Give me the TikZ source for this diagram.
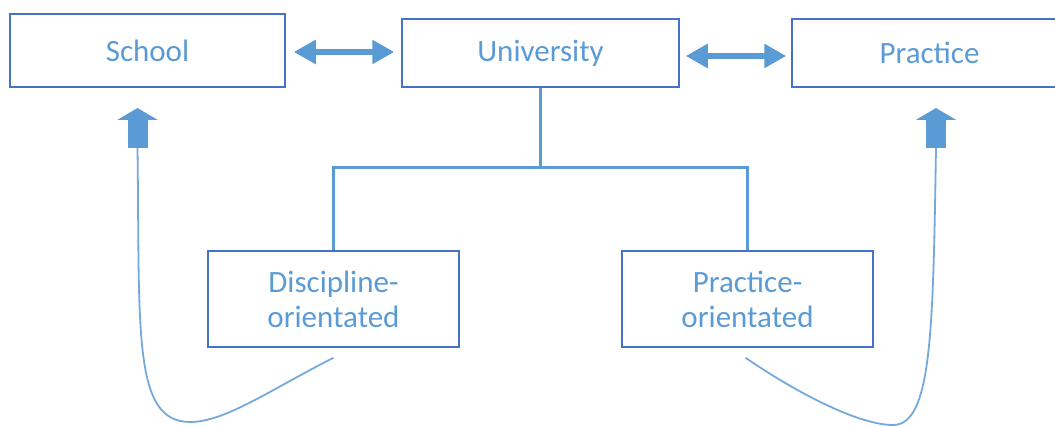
\documentclass[tikz,border=0pt]{standalone}
\usepackage{fontspec}
\setmainfont{Carlito}
\usetikzlibrary{arrows.meta,calc}
\definecolor{boxblue}{HTML}{4472C4}
\definecolor{txtblue}{HTML}{5B9BD5}
\definecolor{lnblue}{HTML}{5B9BD5}
\tikzset{
  box/.style={draw=boxblue, line width=1.5pt, inner sep=0pt, text=txtblue,
    font=\fontsize{31}{35}\selectfont, align=center},
  dbl/.style={draw=lnblue, line width=6pt, {Triangle[width=23pt,length=22pt]}-{Triangle[width=23pt,length=22pt]}},
  uparr/.style={draw=lnblue, line width=20pt, -{Triangle[width=40pt,length=12pt]}},
  tree/.style={draw=lnblue, line width=3pt},
  loopline/.style={draw=lnblue!85, line width=1.8pt}
}
\begin{document}
\begin{tikzpicture}[x=1pt,y=-1pt]
\useasboundingbox (0,0) rectangle (1055,427);
\clip (0,0) rectangle (1055,427);
\node[box, minimum width=275pt, minimum height=73pt] (school) at (147.5,50.5) {School};
\node[box, minimum width=277pt, minimum height=68pt] (univ) at (540.5,53) {University};
\node[box, minimum width=275pt, minimum height=68pt] (prac) at (929.5,53) {Practice};
\node[box, minimum width=251pt, minimum height=96pt] (disc) at (333.5,299) {Discipline-\\orientated};
\node[box, minimum width=251pt, minimum height=96pt] (prac2) at (747.5,299) {Practice-\\orientated};

\draw[dbl] ([xshift=8pt]school.east |- 0,52) -- ([xshift=-7pt]univ.west |- 0,52);
\draw[dbl] ([xshift=6pt]univ.east |- 0,56) -- ([xshift=-5pt]prac.west |- 0,56);

\coordinate (branch) at (540.5,168);
\draw[tree] (univ.south) -- (branch);
\draw[tree] (branch) -| (disc.north);
\draw[tree] (branch) -| (prac2.north);

\coordinate (sarr) at (137.5,148);
\coordinate (parr) at (936,148);
\draw[uparr] (sarr) -- ++(0,-40);
\draw[uparr] (parr) -- ++(0,-40);

\coordinate (dl) at ([yshift=-10pt]disc.south);
\coordinate (pl) at ([yshift=-10pt]prac2.south);
\draw[loopline] (dl) .. controls (270,390) and (225,422) .. (190,422)
  .. controls (132,422) and (140,330) .. (sarr);
\draw[loopline] ([xshift=-2pt]pl) .. controls (800,395) and (860,425) .. (893,425)
  .. controls (932,425) and (933,330) .. (parr);
\end{tikzpicture}
\end{document}
